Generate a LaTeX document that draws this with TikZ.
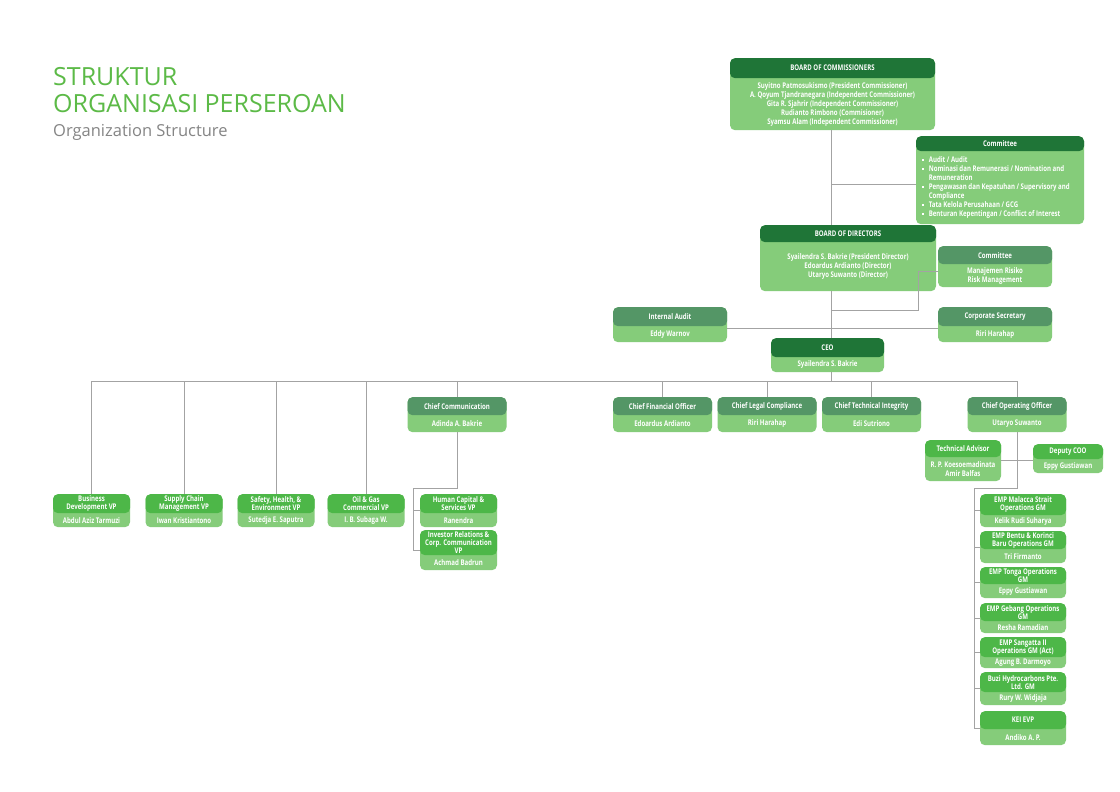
\documentclass[tikz,border=0pt]{standalone}
\usepackage{fontspec}
\newfontfamily\titlefont{Open Sans}
\newfontfamily\boxfont{Open Sans}[FakeStretch=0.78]
\usetikzlibrary{calc}

\definecolor{cDark}{HTML}{1F7537}
\definecolor{cMid}{HTML}{549666}
\definecolor{cBright}{HTML}{4DB748}
\definecolor{cBody}{HTML}{85CC7A}
\definecolor{cLine}{HTML}{A3A3A3}
\definecolor{cTitle}{HTML}{5CBA47}
\definecolor{cSub}{HTML}{858585}

\newcommand{\hfnt}{\boxfont\bfseries\fontsize{7.8}{8}\selectfont}
\newcommand{\bfnt}{\boxfont\bfseries\fontsize{7.8}{9}\selectfont}

\tikzset{
  conn/.style={draw=cLine, line width=0.9pt},
  bodybox/.style={fill=cBody, rounded corners=5pt, inner sep=0pt},
  hbase/.style={rounded corners=5pt, inner sep=0pt, text=white, font=\hfnt, align=center},
  hdark/.style={hbase, fill=cDark},
  hmid/.style={hbase, fill=cMid},
  hbright/.style={hbase, fill=cBright},
  bodytext/.style={inner sep=0pt, text=white, font=\bfnt, align=center},
}

% name, centre x, top y, width, header height, total height, header style, header text, body text
\newcommand{\orgbox}[9]{%
  \node[bodybox, minimum width=#4pt, minimum height=#6pt, anchor=north] (#1) at (#2,#3) {};
  \node[#7, minimum width=#4pt, minimum height=#5pt, anchor=north] (#1-h) at (#1.north) {#8};
  \node[bodytext] (#1-t) at ($(#1-h.south)!0.5!(#1.south)$) {#9};
}
\newcommand{\blt}{\raisebox{1.6pt}{\rule{1.6pt}{1.6pt}}}

\begin{document}
\begin{tikzpicture}[x=1pt,y=-1pt]
\useasboundingbox (0,0) rectangle (1120,792);
\fill[white] (0,0) rectangle (1120,792);

% title
\node[anchor=base west, inner sep=0pt, text=cTitle, font=\titlefont\fontsize{25}{25}\selectfont] (t1) at (53,85) {STRUKTUR};
\node[anchor=base west, inner sep=0pt, text=cTitle, font=\titlefont\fontsize{25}{25}\selectfont] (t2) at (53,113) {ORGANISASI PERSEROAN};
\node[anchor=base west, inner sep=0pt, text=cSub, font=\titlefont\fontsize{16.5}{16.5}\selectfont] (t3) at (53,136) {Organization Structure};

% top management
\orgbox{boc}{832.5}{58}{205}{20}{72}{hdark}{BOARD OF COMMISSIONERS}{Suyitno Patmosukismo (President Commissioner)\\A. Qoyum Tjandranegara (Independent Commissioner)\\Gita R. Sjahrir (Independent Commissioner)\\Rudianto Rimbono (Commisioner)\\Syamsu Alam (Independent Commissioner)}
\orgbox{com1}{1000}{136}{168}{15}{88}{hdark}{Committee}{}
\node[anchor=north west, inner sep=0pt, text=white, font=\bfnt] (com1-list) at (922,156) {%
  \renewcommand{\arraystretch}{1}%
  \begin{tabular}{@{}l@{\hspace{5pt}}l@{}}
  \blt & Audit / Audit\\
  \blt & Nominasi dan Remunerasi / Nomination and\\
       & Remuneration\\
  \blt & Pengawasan dan Kepatuhan / Supervisory and\\
       & Compliance\\
  \blt & Tata Kelola Perusahaan / GCG\\
  \blt & Benturan Kepentingan / Conflict of Interest
  \end{tabular}};
\orgbox{bod}{848}{225}{176}{17}{66}{hdark}{BOARD OF DIRECTORS}{Syailendra S. Bakrie (President Director)\\Edoardus Ardianto (Director)\\Utaryo Suwanto (Director)}
\orgbox{com2}{995}{246}{114}{18}{41}{hmid}{Committee}{Manajemen Risiko\\Risk Management}
\orgbox{ia}{670}{307}{114}{19}{35}{hmid}{Internal Audit}{Eddy Warnov}
\orgbox{cs}{995}{307}{114}{19}{35}{hmid}{Corporate Secretary}{Riri Harahap}
\orgbox{ceo}{827.5}{338}{113}{19}{34}{hdark}{CEO}{Syailendra S. Bakrie}

% chiefs
\orgbox{cc}{457}{397}{99}{18}{35}{hmid}{Chief Communication}{Adinda A. Bakrie}
\orgbox{cfo}{662.5}{397}{99}{18}{35}{hmid}{Chief Financial Officer}{Edoardus Ardianto}
\orgbox{clc}{767}{397}{99}{18}{35}{hmid}{Chief Legal Compliance}{Riri Harahap}
\orgbox{cti}{871.5}{397}{99}{18}{35}{hmid}{Chief Technical Integrity}{Edi Sutriono}
\orgbox{coo}{1017}{397}{99}{18}{35}{hmid}{Chief Operating Officer}{Utaryo Suwanto}

% vice presidents
\orgbox{bd}{91.5}{494}{77}{19}{33}{hbright}{Business\\Development VP}{Abdul Aziz Tarmuzi}
\orgbox{sc}{184}{494}{77}{19}{33}{hbright}{Supply Chain\\Management VP}{Iwan Kristiantono}
\orgbox{she}{276}{494}{77}{19}{33}{hbright}{Safety, Health, \&\\Environment VP}{Sutedja E. Saputra}
\orgbox{og}{366}{494}{77}{19}{33}{hbright}{Oil \& Gas\\Commercial VP}{I. B. Subaga W.}
\orgbox{hc}{458.5}{494}{77}{19}{33}{hbright}{Human Capital \&\\Services VP}{Ranendra}
\orgbox{ir}{458.5}{530}{77}{25}{40}{hbright}{Investor Relations \&\\Corp. Communication\\VP}{Achmad Badrun}

% operations
\orgbox{ta}{963}{440}{76}{17}{41}{hbright}{Technical Advisor}{R. P. Koesoemadinata\\Amir Balfas}
\orgbox{dcoo}{1068}{444}{70}{15}{29}{hbright}{Deputy COO}{Eppy Gustiawan}
\orgbox{gm1}{1023}{494}{86}{21}{33}{hbright}{EMP Malacca Strait\\Operations GM}{Kelik Rudi Suharya}
\orgbox{gm2}{1023}{531}{86}{18}{32}{hbright}{EMP Bentu \& Korinci\\Baru Operations GM}{Tri Firmanto}
\orgbox{gm3}{1023}{567}{86}{17}{31}{hbright}{EMP Tonga Operations\\GM}{Eppy Gustiawan}
\orgbox{gm4}{1023}{603}{86}{18}{30}{hbright}{EMP Gebang Operations\\GM}{Resha Ramadian}
\orgbox{gm5}{1023}{637}{86}{20}{31}{hbright}{EMP Sangatta II\\Operations GM (Act)}{Agung B. Darmoyo}
\orgbox{gm6}{1023}{672}{86}{20}{33}{hbright}{Buzi Hydrocarbons Pte.\\Ltd. GM}{Rury W. Widjaja}
\orgbox{gm7}{1023}{711}{86}{18}{34}{hbright}{KEI EVP}{Andiko A. P.}

% connectors
\coordinate (trunk) at (831,300);
\coordinate (rmj) at (918,310);
\coordinate (bus) at (0,381);
\coordinate (ccl) at (413,488);
\coordinate (cool) at (974,488);

\draw[conn] (trunk |- boc.south) -- (trunk |- bod.north);
\draw[conn] ([yshift=-4pt]com1.west) -- ([yshift=-4pt]com1.west -| trunk);
\draw[conn] (trunk |- bod.south) -- (trunk |- ceo.north);
\draw[conn] (rmj -| trunk) -- (rmj) |- ([yshift=-5pt]com2.west);
\draw[conn] ([yshift=-4pt]ia.east) -- ([yshift=-4pt]ia.east -| cs.west);
\draw[conn] (trunk |- ceo.south) -- (trunk |- bus);
\draw[conn] (bd.north |- bus) -- (coo.north |- bus);
\foreach \n in {bd,sc,she,og,cc,cfo,clc,cti,coo}
  \draw[conn] (\n.north |- bus) -- (\n.north);
\draw[conn] (cc.south) |- (ccl) -- (ccl |- ir.west) -- (ir.west);
\draw[conn] (ccl |- hc.west) -- (hc.west);
\draw[conn] (coo.south) |- (cool) -- (cool |- gm7.west) -- (gm7.west);
\foreach \n in {gm1,gm2,gm3,gm4,gm5,gm6}
  \draw[conn] (cool |- \n.west) -- (\n.west);
\draw[conn] (ta.east) -- (ta.east -| dcoo.west);
\end{tikzpicture}
\end{document}
